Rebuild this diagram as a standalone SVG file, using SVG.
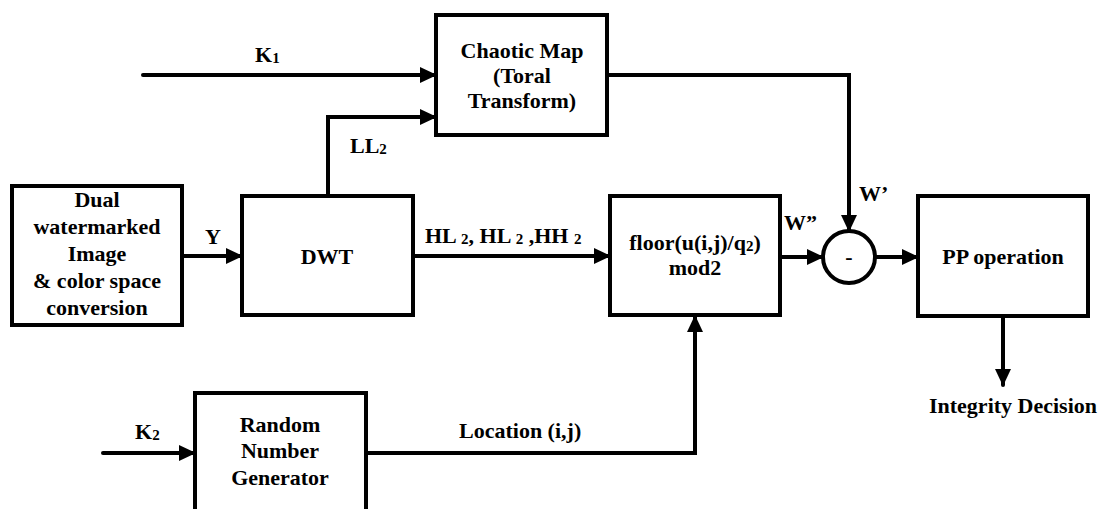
<svg xmlns="http://www.w3.org/2000/svg" width="1103" height="509" viewBox="0 0 1103 509">
<defs>
<marker id="ah" markerUnits="userSpaceOnUse" markerWidth="17" markerHeight="16" refX="16" refY="8" orient="auto">
<path d="M0,0 L17,8 L0,16 z" fill="#000"/>
</marker>
</defs>
<g id="connectors" fill="none" stroke="#000" stroke-width="4" stroke-linecap="round">
<path d="M143,75 H436" marker-end="url(#ah)"/>
<path d="M328,196 V117 H436" marker-end="url(#ah)"/>
<path d="M182,256 H242" marker-end="url(#ah)"/>
<path d="M413,256 H610" marker-end="url(#ah)"/>
<path d="M607,75 H849 V231" marker-end="url(#ah)"/>
<path d="M780,257 H823" marker-end="url(#ah)"/>
<path d="M875,257 H918" marker-end="url(#ah)"/>
<path d="M1003,316 V385" marker-end="url(#ah)"/>
<path d="M103,453 H195" marker-end="url(#ah)"/>
<path d="M366,453 H695 V316" marker-end="url(#ah)"/>
</g>
<g id="labels">
<text font-family="Liberation Serif" font-weight="bold" font-size="22" x="255" y="62">K<tspan font-size="15" dy="1">1</tspan></text>
<text font-family="Liberation Serif" font-weight="bold" font-size="22" x="350" y="153">LL<tspan font-size="15" dy="1">2</tspan></text>
<text font-family="Liberation Serif" font-weight="bold" font-size="22" x="205" y="244">Y</text>
<text font-family="Liberation Serif" font-weight="bold" font-size="22" x="425" y="243">HL <tspan font-size="15" dy="1">2</tspan><tspan dy="-1">, HL </tspan><tspan font-size="15" dy="1">2</tspan><tspan dy="-1"> ,HH </tspan><tspan font-size="15" dy="1">2</tspan></text>
<text font-family="Liberation Serif" font-weight="bold" font-size="22" x="784" y="230">W&#8221;</text>
<text font-family="Liberation Serif" font-weight="bold" font-size="22" x="859" y="201">W&#8217;</text>
<text font-family="Liberation Serif" font-weight="bold" font-size="22" x="135" y="439">K<tspan font-size="15" dy="1">2</tspan></text>
<text font-family="Liberation Serif" font-weight="bold" font-size="22" x="459" y="438">Location (i,j)</text>
<text font-family="Liberation Serif" font-weight="bold" font-size="22" text-anchor="middle" x="1013" y="413">Integrity Decision</text>
</g>
<g id="chaotic">
<rect x="436" y="15" width="171" height="120" fill="#fff" stroke="#000" stroke-width="4"/>
<text font-family="Liberation Serif" font-weight="bold" font-size="22" text-anchor="middle" x="522" y="58">Chaotic Map</text>
<text font-family="Liberation Serif" font-weight="bold" font-size="22" text-anchor="middle" x="522" y="83">(Toral</text>
<text font-family="Liberation Serif" font-weight="bold" font-size="22" text-anchor="middle" x="522" y="108">Transform)</text>
</g>
<g id="dual">
<rect x="12" y="186" width="170" height="139" fill="#fff" stroke="#000" stroke-width="4"/>
<text font-family="Liberation Serif" font-weight="bold" font-size="22" text-anchor="middle" x="97" y="207">Dual</text>
<text font-family="Liberation Serif" font-weight="bold" font-size="22" text-anchor="middle" x="97" y="234">watermarked</text>
<text font-family="Liberation Serif" font-weight="bold" font-size="22" text-anchor="middle" x="97" y="261">Image</text>
<text font-family="Liberation Serif" font-weight="bold" font-size="22" text-anchor="middle" x="97" y="288">&amp; color space</text>
<text font-family="Liberation Serif" font-weight="bold" font-size="22" text-anchor="middle" x="97" y="315">conversion</text>
</g>
<g id="dwt">
<rect x="242" y="196" width="171" height="119" fill="#fff" stroke="#000" stroke-width="4"/>
<text font-family="Liberation Serif" font-weight="bold" font-size="22" text-anchor="middle" x="327" y="264">DWT</text>
</g>
<g id="floor">
<rect x="610" y="196" width="170" height="119" fill="#fff" stroke="#000" stroke-width="4"/>
<text font-family="Liberation Serif" font-weight="bold" font-size="22" text-anchor="middle" x="695" y="250">floor(u(i,j)/q<tspan font-size="15" dy="1">2</tspan><tspan dy="-1">)</tspan></text>
<text font-family="Liberation Serif" font-weight="bold" font-size="22" text-anchor="middle" x="695" y="275">mod2</text>
</g>
<g id="subtract">
<circle cx="849" cy="257" r="26" fill="#fff" stroke="#000" stroke-width="4"/>
<text font-family="Liberation Serif" font-weight="bold" font-size="22" text-anchor="middle" x="849" y="264">-</text>
</g>
<g id="pp">
<rect x="918" y="196" width="170" height="120" fill="#fff" stroke="#000" stroke-width="4"/>
<text font-family="Liberation Serif" font-weight="bold" font-size="22" text-anchor="middle" x="1003" y="264">PP operation</text>
</g>
<g id="rng">
<rect x="195" y="393" width="171" height="130" fill="#fff" stroke="#000" stroke-width="4"/>
<text font-family="Liberation Serif" font-weight="bold" font-size="22" text-anchor="middle" x="280" y="432">Random</text>
<text font-family="Liberation Serif" font-weight="bold" font-size="22" text-anchor="middle" x="280" y="458">Number</text>
<text font-family="Liberation Serif" font-weight="bold" font-size="22" text-anchor="middle" x="280" y="485">Generator</text>
</g>
</svg>
